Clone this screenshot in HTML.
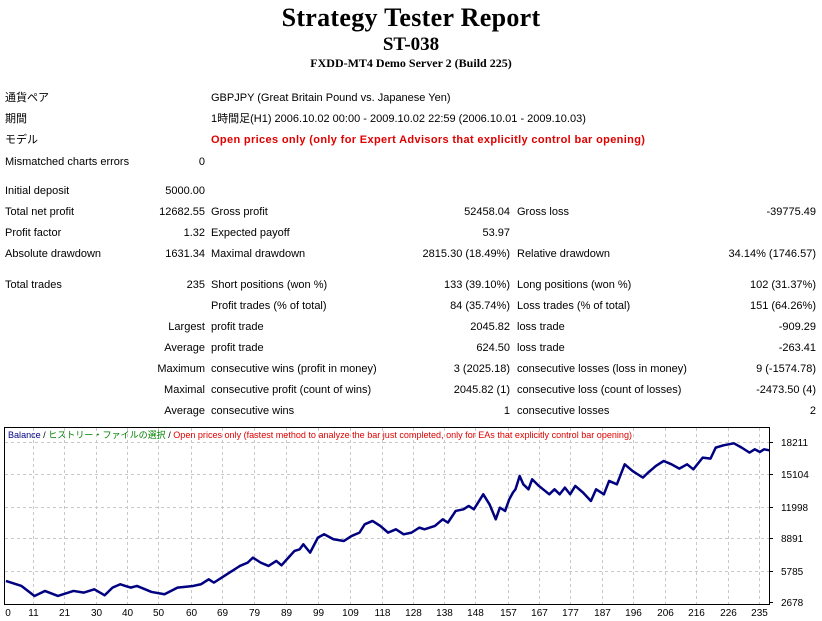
<!DOCTYPE html>
<html><head><meta charset="utf-8"><style>
body{margin:0;width:822px;height:621px;background:#fff;position:relative;overflow:hidden;font-family:"Liberation Sans","Noto Sans CJK JP",sans-serif;font-size:11px;color:#000}
.t{position:absolute;white-space:nowrap;line-height:13px}
.r{text-align:right}
.h{position:absolute;left:0;width:822px;text-align:center;font-family:"Liberation Serif",serif;font-weight:bold;white-space:nowrap}
</style></head><body>
<div class="h" style="top:3px;font-size:26px;letter-spacing:0.3px">Strategy Tester Report</div>
<div class="h" style="top:34px;font-size:19px">ST-038</div>
<div class="h" style="top:56px;font-size:12px">FXDD-MT4 Demo Server 2 (Build 225)</div>

<div class="t" style="left:5px;top:92px">通貨ペア</div>
<div class="t" style="left:211px;top:92px">GBPJPY (Great Britain Pound vs. Japanese Yen)</div>
<div class="t" style="left:5px;top:113px">期間</div>
<div class="t" style="left:211px;top:113px">1時間足(H1) 2006.10.02 00:00 - 2009.10.02 22:59 (2006.10.01 - 2009.10.03)</div>
<div class="t" style="left:5px;top:134px">モデル</div>
<div class="t" style="left:211px;top:134px;color:#e00000;font-weight:bold;letter-spacing:0.35px">Open prices only (only for Expert Advisors that explicitly control bar opening)</div>
<div class="t" style="left:5px;top:156px">Mismatched charts errors</div>
<div class="t r" style="right:617px;top:156px">0</div>

<div class="t" style="left:5px;top:185px">Initial deposit</div><div class="t r" style="right:617px;top:185px">5000.00</div>

<div class="t" style="left:5px;top:206px">Total net profit</div><div class="t r" style="right:617px;top:206px">12682.55</div>
<div class="t" style="left:211px;top:206px">Gross profit</div><div class="t r" style="right:312px;top:206px">52458.04</div>
<div class="t" style="left:517px;top:206px">Gross loss</div><div class="t r" style="right:6px;top:206px">-39775.49</div>

<div class="t" style="left:5px;top:227px">Profit factor</div><div class="t r" style="right:617px;top:227px">1.32</div>
<div class="t" style="left:211px;top:227px">Expected payoff</div><div class="t r" style="right:312px;top:227px">53.97</div>

<div class="t" style="left:5px;top:248px">Absolute drawdown</div><div class="t r" style="right:617px;top:248px">1631.34</div>
<div class="t" style="left:211px;top:248px">Maximal drawdown</div><div class="t r" style="right:312px;top:248px">2815.30 (18.49%)</div>
<div class="t" style="left:517px;top:248px">Relative drawdown</div><div class="t r" style="right:6px;top:248px">34.14% (1746.57)</div>

<div class="t" style="left:5px;top:279px">Total trades</div><div class="t r" style="right:617px;top:279px">235</div>
<div class="t" style="left:211px;top:279px">Short positions (won %)</div><div class="t r" style="right:312px;top:279px">133 (39.10%)</div>
<div class="t" style="left:517px;top:279px">Long positions (won %)</div><div class="t r" style="right:6px;top:279px">102 (31.37%)</div>

<div class="t" style="left:211px;top:300px">Profit trades (% of total)</div><div class="t r" style="right:312px;top:300px">84 (35.74%)</div>
<div class="t" style="left:517px;top:300px">Loss trades (% of total)</div><div class="t r" style="right:6px;top:300px">151 (64.26%)</div>

<div class="t r" style="right:617px;top:321px">Largest</div>
<div class="t" style="left:211px;top:321px">profit trade</div><div class="t r" style="right:312px;top:321px">2045.82</div>
<div class="t" style="left:517px;top:321px">loss trade</div><div class="t r" style="right:6px;top:321px">-909.29</div>

<div class="t r" style="right:617px;top:342px">Average</div>
<div class="t" style="left:211px;top:342px">profit trade</div><div class="t r" style="right:312px;top:342px">624.50</div>
<div class="t" style="left:517px;top:342px">loss trade</div><div class="t r" style="right:6px;top:342px">-263.41</div>

<div class="t r" style="right:617px;top:363px">Maximum</div>
<div class="t" style="left:211px;top:363px">consecutive wins (profit in money)</div><div class="t r" style="right:312px;top:363px">3 (2025.18)</div>
<div class="t" style="left:517px;top:363px">consecutive losses (loss in money)</div><div class="t r" style="right:6px;top:363px">9 (-1574.78)</div>

<div class="t r" style="right:617px;top:384px">Maximal</div>
<div class="t" style="left:211px;top:384px">consecutive profit (count of wins)</div><div class="t r" style="right:312px;top:384px">2045.82 (1)</div>
<div class="t" style="left:517px;top:384px">consecutive loss (count of losses)</div><div class="t r" style="right:6px;top:384px">-2473.50 (4)</div>

<div class="t r" style="right:617px;top:405px">Average</div>
<div class="t" style="left:211px;top:405px">consecutive wins</div><div class="t r" style="right:312px;top:405px">1</div>
<div class="t" style="left:517px;top:405px">consecutive losses</div><div class="t r" style="right:6px;top:405px">2</div>

<svg style="position:absolute;left:0;top:0" width="822" height="621">
<rect x="4.5" y="427.5" width="765" height="177" fill="#fff" stroke="#000" stroke-width="1"/>
<g stroke="#c8c8c8" stroke-dasharray="3,3" stroke-width="1">
<line x1="5" x2="769" y1="442.5" y2="442.5"/><line x1="5" x2="769" y1="474.5" y2="474.5"/><line x1="5" x2="769" y1="507.5" y2="507.5"/><line x1="5" x2="769" y1="538.5" y2="538.5"/><line x1="5" x2="769" y1="571.5" y2="571.5"/>
<g id="vg"></g>
</g>
<g stroke="#000"><line x1="769" x2="773" y1="442.5" y2="442.5"/><line x1="769" x2="773" y1="474.5" y2="474.5"/><line x1="769" x2="773" y1="507.5" y2="507.5"/><line x1="769" x2="773" y1="538.5" y2="538.5"/><line x1="769" x2="773" y1="571.5" y2="571.5"/><line x1="769" x2="773" y1="602.5" y2="602.5"/></g>
<g font-family="Liberation Sans, sans-serif" font-size="10" fill="#000">
<text x="781" y="446">18211</text><text x="781" y="478">15104</text><text x="781" y="511">11998</text><text x="781" y="542">8891</text><text x="781" y="575">5785</text><text x="781" y="606">2678</text>
</g>
<g id="xl" font-family="Liberation Sans, sans-serif" font-size="10" fill="#000" text-anchor="middle"></g>
<text x="8" y="438" font-family="Liberation Sans, Noto Sans CJK JP, sans-serif" font-size="9" textLength="624" lengthAdjust="spacingAndGlyphs"><tspan fill="#000080">Balance</tspan><tspan fill="#000"> / </tspan><tspan fill="#008000">ヒストリー・ファイルの選択</tspan><tspan fill="#000"> / </tspan><tspan fill="#e00000">Open prices only (fastest method to analyze the bar just completed, only for EAs that explicitly control bar opening)</tspan></text>
<g transform="translate(0.7,419.3) scale(0.52,0.3333)">
<polyline fill="none" stroke="#000080" stroke-width="2.5" vector-effect="non-scaling-stroke" stroke-linejoin="round" points="10,485 40,500 65,530 85,515 110,530 140,515 160,520 180,510 200,528 215,505 230,495 250,505 262,500 290,518 315,525 340,505 370,500 385,495 400,480 410,490 430,470 445,455 455,445 460,440 475,430 485,415 500,430 515,440 530,425 540,438 555,412 565,395 575,390 582,375 595,400 610,355 622,345 640,360 660,365 675,350 690,340 700,315 715,305 730,320 745,340 760,330 775,345 790,340 805,325 815,330 835,320 850,300 860,310 875,275 890,270 900,260 910,270 920,245 928,225 940,255 952,300 960,265 970,275 978,240 985,220 990,210 998,170 1005,195 1015,210 1022,180 1035,200 1055,225 1065,210 1075,225 1085,205 1095,225 1105,200 1120,220 1135,245 1145,210 1160,225 1170,185 1185,195 1200,135 1215,155 1235,175 1245,160 1260,140 1275,125 1290,135 1305,148 1320,135 1332,150 1350,115 1365,118 1375,85 1390,78 1410,72 1425,85 1440,100 1450,90 1460,98 1468,90 1478,93"/>
</g>
</svg>
<script>
var lab=[0,11,21,30,40,50,60,69,79,89,99,109,118,128,138,148,157,167,177,187,196,206,216,226,235];
var zx=[14,62,122,183,243,302,365,425,487,548,611,672,733,792,853,913,975,1035,1095,1156,1216,1278,1337,1398,1458];
var ns="http://www.w3.org/2000/svg",vg=document.getElementById("vg"),xl=document.getElementById("xl");
for(var i=0;i<lab.length;i++){var x=Math.round(zx[i]*0.52+0.7)+0.5;
if(i>0){var l=document.createElementNS(ns,"line");l.setAttribute("x1",x);l.setAttribute("x2",x);l.setAttribute("y1",428);l.setAttribute("y2",604);vg.appendChild(l);}
var t=document.createElementNS(ns,"text");t.setAttribute("x",i==0?8:x);t.setAttribute("y",616);t.textContent=lab[i];xl.appendChild(t);}
</script>
</body></html>
